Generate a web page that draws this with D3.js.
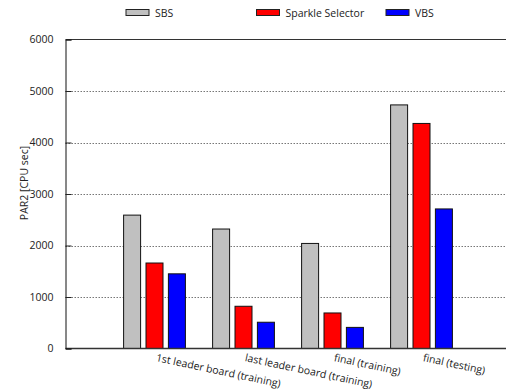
<!DOCTYPE html>
<html>
<head>
<meta charset="utf-8">
<script src="https://cdn.jsdelivr.net/npm/d3@7"></script>
<style>
  body { margin: 0; background: #fff; }
  text { font-family: "Open Sans", sans-serif; fill: #222; }
</style>
</head>
<body>
<script>
    // data
    var categories = ['1st leader board (training)', 'last leader board (training)',
                      'final (training)', 'final (testing)'];
    var seriesNames = ['SBS', 'Sparkle Selector', 'VBS'];
    var sbs = [2590, 2320, 2040, 4730];
    var sparkle = [1660, 820, 690, 4370];
    var vbs = [1450, 510, 410, 2710];
    var yTicks = [0, 1000, 2000, 3000, 4000, 5000, 6000];

    var seriesValues = [sbs, sparkle, vbs];
    var colors = ['#c0c0c0', '#ff0000', '#0000ff'];

    // plot frame (note: "top" is reserved on window, so use plot* names)
    var W = 506, H = 390;
    var plotLeft = 65.5, plotTop = 39.5, plotBottom = 348.5;

    var svg = d3.select('body').append('svg')
        .attr('width', W)
        .attr('height', H);

    // group index scale: -1 at the left axis, plot continues past the right edge
    var x = d3.scaleLinear().domain([-1, 4]).range([plotLeft, plotLeft + 89 * 5]);
    var y = d3.scaleLinear().domain([0, 6000]).range([plotBottom, plotTop]);
    var offset = d3.scaleLinear().domain([0, 2]).range([-22.4, 22.4]);
    var barW = 17;

    // dotted grid
    svg.append('g')
        .selectAll('line')
        .data(yTicks.filter(function (d) { return d > 0 && d < 6000; }))
        .enter().append('line')
        .attr('x1', plotLeft)
        .attr('x2', W)
        .attr('y1', function (d) { return Math.round(y(d)) + 0.5; })
        .attr('y2', function (d) { return Math.round(y(d)) + 0.5; })
        .style('stroke', '#777')
        .style('stroke-dasharray', '1.5,1.5');

    // bars
    for (let s = 0; s < seriesValues.length; s++) {
        svg.append('g')
            .selectAll('rect')
            .data(seriesValues[s])
            .enter().append('rect')
            .attr('x', function (d, i) { return x(i) + offset(s) - barW / 2; })
            .attr('y', function (d) { return y(d); })
            .attr('width', barW)
            .attr('height', function (d) { return y(0) - y(d); })
            .style('fill', colors[s])
            .style('stroke', '#111')
            .style('stroke-width', 1);
    }

    // frame: top and bottom
    svg.append('line')
        .attr('x1', plotLeft).attr('x2', W)
        .attr('y1', plotTop).attr('y2', plotTop)
        .style('stroke', '#333');
    svg.append('line')
        .attr('x1', plotLeft).attr('x2', W)
        .attr('y1', plotBottom).attr('y2', plotBottom)
        .style('stroke', '#333')
        .style('stroke-width', 1.5);

    // Y axis with inward ticks
    var yAxis = svg.append('g')
        .attr('transform', 'translate(' + plotLeft + ',0)')
        .call(d3.axisLeft(y).tickValues(yTicks).tickFormat(d3.format('d'))
                .tickSize(-6).tickPadding(12));
    yAxis.select('.domain').style('stroke', '#111');
    yAxis.selectAll('.tick line').style('stroke', '#222');
    yAxis.selectAll('text')
        .style('font-family', '"Open Sans", sans-serif')
        .style('font-size', '10.5px')
        .style('fill', '#222');

    svg.append('text')
        .attr('transform', 'translate(28,183) rotate(-90)')
        .attr('text-anchor', 'middle')
        .style('font-size', '10.5px')
        .text('PAR2 [CPU sec]');

    // rotated category labels, starting at the group centre
    svg.append('g')
        .selectAll('text')
        .data(categories)
        .enter().append('text')
        .attr('transform', function (d, i) {
            return 'translate(' + (x(i) + 1) + ',361) rotate(12)';
        })
        .attr('text-anchor', 'start')
        .style('font-size', '10.5px')
        .text(function (d) { return d; });

    // legend
    var legendX = [126, 256.5, 386];
    var legend = svg.append('g')
        .selectAll('g')
        .data(seriesNames)
        .enter().append('g')
        .attr('transform', function (d, i) { return 'translate(' + legendX[i] + ',9.5)'; });
    legend.append('rect')
        .attr('width', 23)
        .attr('height', 6)
        .style('fill', function (d, i) { return colors[i]; })
        .style('stroke', '#222');
    legend.append('text')
        .attr('x', 29)
        .attr('y', 7.5)
        .style('font-size', '10.5px')
        .text(function (d) { return d; });
</script>
</body>
</html>
